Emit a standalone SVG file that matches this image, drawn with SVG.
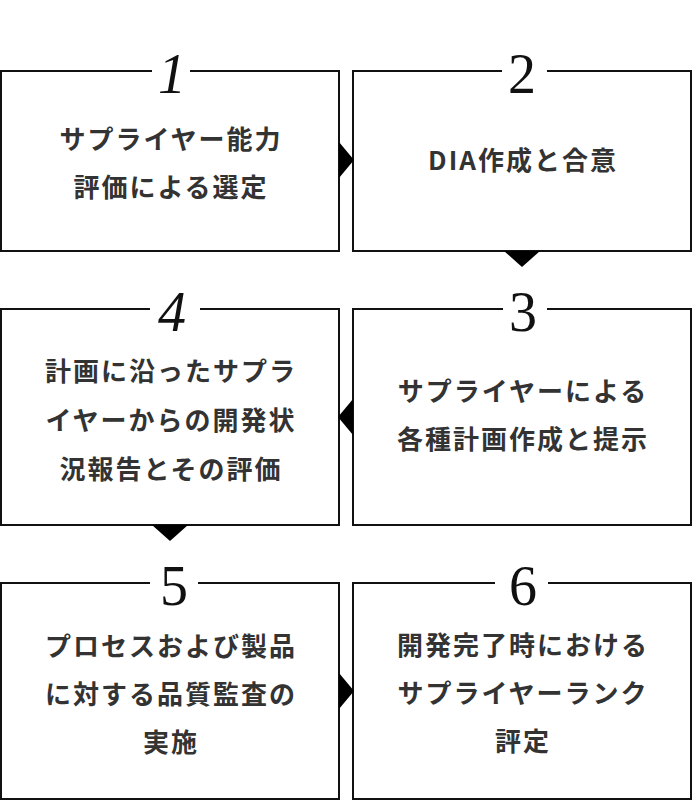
<svg xmlns="http://www.w3.org/2000/svg" width="692" height="800" viewBox="0 0 692 800">
<style>
.box{fill:#fff;stroke:#111;stroke-width:2}
.gap{fill:#fff}
.num{font-family:"Liberation Serif","Times New Roman",serif;font-size:56px;fill:#111;text-anchor:middle}
.it{font-style:italic}
.lbl{font-family:"Noto Sans CJK JP","Noto Sans",sans-serif;font-weight:700;font-size:26px;letter-spacing:2px;fill:#333;text-anchor:middle}
.arr{fill:#000}
</style>
<rect width="692" height="800" fill="#fff"/>
<g id="node1">
<rect class="box" x="1" y="71" width="338" height="180"/>
<rect class="gap" x="152" y="60" width="38" height="20"/>
<text class="num it" x="172" y="93">1</text>
<text class="lbl" x="171" y="149">サプライヤー能力</text>
<text class="lbl" x="171" y="197">評価による選定</text>
</g>
<g id="node2">
<rect class="box" x="353" y="71" width="338" height="180"/>
<rect class="gap" x="502" y="60" width="45" height="20"/>
<text class="num" x="522" y="93">2</text>
<text class="lbl" x="523" y="170">DIA作成と合意</text>
</g>
<g id="node3">
<rect class="box" x="353" y="309" width="338" height="216"/>
<rect class="gap" x="503" y="298" width="44" height="20"/>
<text class="num" x="523" y="331">3</text>
<text class="lbl" x="523" y="401">サプライヤーによる</text>
<text class="lbl" x="523" y="449">各種計画作成と提示</text>
</g>
<g id="node4">
<rect class="box" x="1" y="309" width="338" height="216"/>
<rect class="gap" x="150" y="298" width="50" height="20"/>
<text class="num it" x="172" y="331">4</text>
<text class="lbl" x="171" y="381">計画に沿ったサプラ</text>
<text class="lbl" x="171" y="430">イヤーからの開発状</text>
<text class="lbl" x="171" y="479">況報告とその評価</text>
</g>
<g id="node5">
<rect class="box" x="1" y="583" width="338" height="216"/>
<rect class="gap" x="150" y="572" width="48" height="20"/>
<text class="num" x="174" y="605">5</text>
<text class="lbl" x="171" y="656">プロセスおよび製品</text>
<text class="lbl" x="171" y="704">に対する品質監査の</text>
<text class="lbl" x="171" y="752">実施</text>
</g>
<g id="node6">
<rect class="box" x="353" y="583" width="338" height="216"/>
<rect class="gap" x="495" y="572" width="53" height="20"/>
<text class="num" x="523" y="605">6</text>
<text class="lbl" x="523" y="655">開発完了時における</text>
<text class="lbl" x="523" y="703">サプライヤーランク</text>
<text class="lbl" x="523" y="751">評定</text>
</g>
<g id="connectors">
<polygon class="arr" points="339,142 339,178 354,160"/>
<polygon class="arr" points="504,251 540,251 522,267"/>
<polygon class="arr" points="353,399 353,435 338,417"/>
<polygon class="arr" points="152,525 188,525 170,541"/>
<polygon class="arr" points="339,673 339,709 354,691"/>
</g>
</svg>
